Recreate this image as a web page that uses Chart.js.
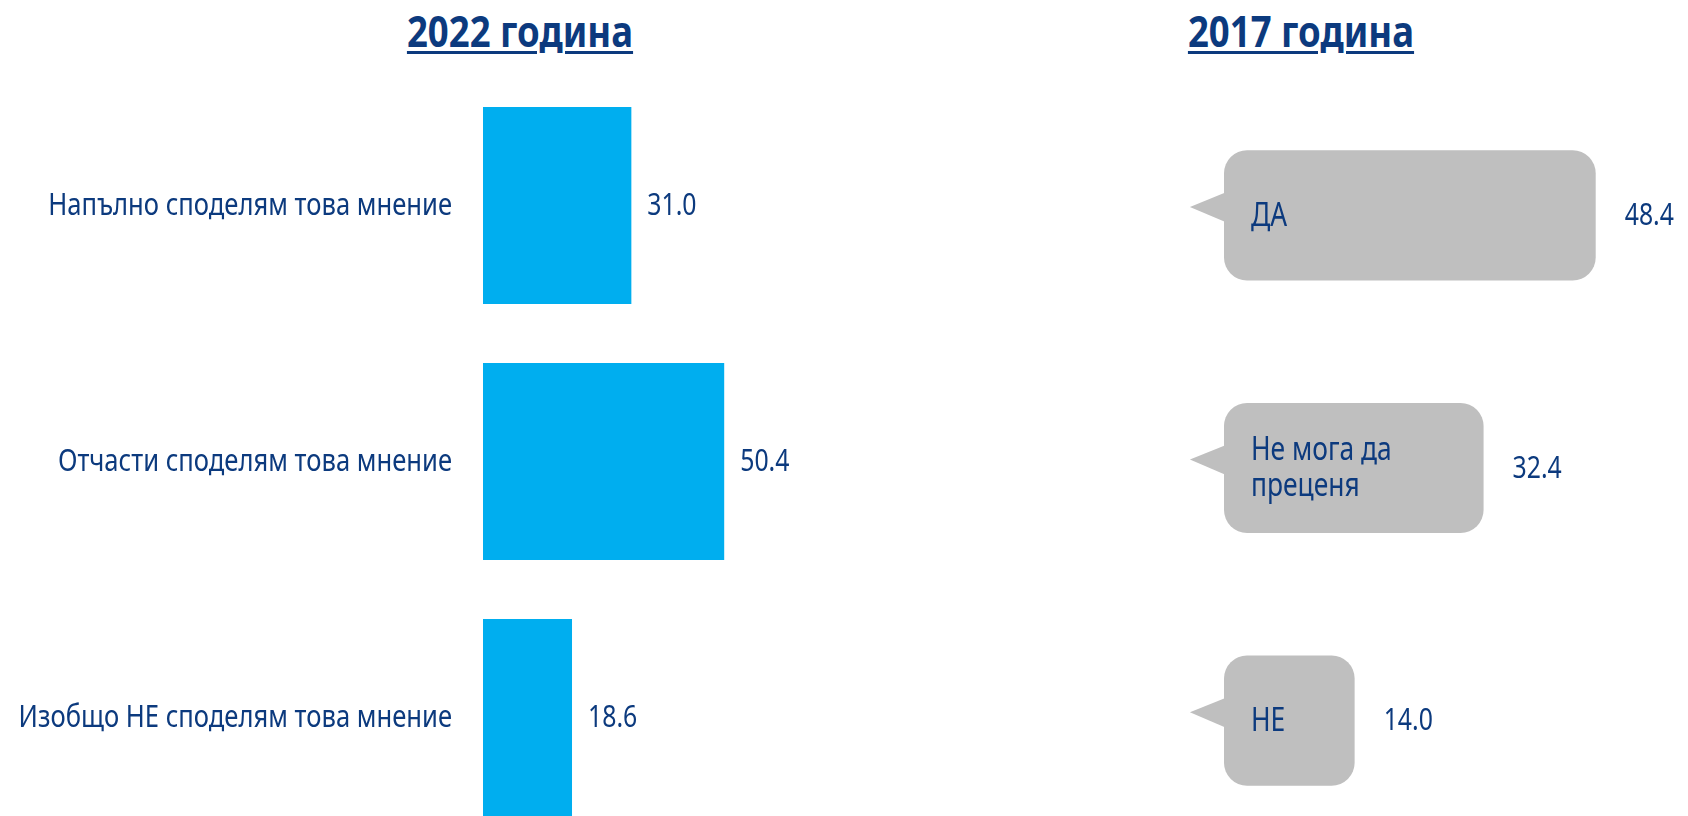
<!DOCTYPE html>
<html>
<head>
<meta charset="utf-8">
<script src="https://cdn.jsdelivr.net/npm/chart.js@4"></script>
<style>
  html, body { margin: 0; padding: 0; background: #fff; }
  body { width: 1688px; height: 816px; overflow: hidden; position: relative; }
  .title {
    position: absolute; top: 9px; width: 400px; text-align: center;
    font-family: "Noto Sans", sans-serif;
    font-weight: bold; font-size: 43px; line-height: 43px; color: #0c3a7e;
    text-decoration: underline; text-decoration-thickness: 3px; text-underline-offset: 4px;
    transform: scaleX(0.85); transform-origin: center;
  }
  canvas { position: absolute; top: 0; }
</style>
</head>
<body>
<div class="title" style="left: 320px;">2022 година</div>
<div class="title" style="left: 1101px;">2017 година</div>
<canvas id="chart2022" width="844" height="860" style="left:0"></canvas>
<canvas id="chart2017" width="844" height="860" style="left:844px"></canvas>
<script>
// data
const categories2022 = ['Напълно споделям това мнение', 'Отчасти споделям това мнение', 'Изобщо НЕ споделям това мнение'];
const values2022 = [31.0, 50.4, 18.6];
const categories2017 = ['ДА', ['Не мога да', 'преценя'], 'НЕ'];
const values2017 = [48.4, 32.4, 14.0];

const textColor = '#0c3a7e';
const fontFamily = '"Noto Sans", sans-serif';

// the original font is a condensed one, so squeeze the text a bit
function narrowText(ctx, text, x, y, align, sx) {
    ctx.save();
    ctx.translate(x, y);
    ctx.scale(sx, 1);
    ctx.textAlign = align;
    ctx.textBaseline = 'middle';
    ctx.fillText(text, 0, 0);
    ctx.restore();
}

// category names left of the bars
const catLabels = {
    id: 'catLabels',
    afterDatasetsDraw(chart, args, opts) {
        const ctx = chart.ctx;
        const yScale = chart.scales.y;
        ctx.save();
        ctx.font = '31px ' + fontFamily;
        ctx.fillStyle = textColor;
        chart.data.labels.forEach(function(t, i) {
            narrowText(ctx, t, chart.chartArea.left - opts.gap, yScale.getPixelForTick(i) + 1, 'right', 0.826);
        });
        ctx.restore();
    }
};

// value labels just right of each bar
const valueLabels = {
    id: 'valueLabels',
    afterDatasetsDraw(chart, args, opts) {
        const ctx = chart.ctx;
        const meta = chart.getDatasetMeta(0);
        ctx.save();
        ctx.font = '31px ' + fontFamily;
        ctx.fillStyle = textColor;
        meta.data.forEach(function(bar, i) {
            const v = chart.data.datasets[0].data[i];
            narrowText(ctx, v.toFixed(1), bar.x + opts.gap, bar.y + 1, 'left', 0.8);
        });
        ctx.restore();
    }
};

// speech bubble pointer + text inside the bubble
const bubbles = {
    id: 'bubbles',
    beforeDatasetsDraw(chart) {
        const ctx = chart.ctx;
        const meta = chart.getDatasetMeta(0);
        ctx.save();
        ctx.fillStyle = '#bfbfbf';
        meta.data.forEach(function(bar) {
            const h = bar.height;
            ctx.beginPath();
            ctx.moveTo(bar.base + 2, bar.y - 0.177 * h);
            ctx.lineTo(bar.base - 0.262 * h, bar.y - 0.065 * h);
            ctx.lineTo(bar.base + 2, bar.y + 0.054 * h);
            ctx.closePath();
            ctx.fill();
        });
        ctx.restore();
    },
    afterDatasetsDraw(chart) {
        const ctx = chart.ctx;
        const meta = chart.getDatasetMeta(0);
        ctx.save();
        ctx.font = '33px ' + fontFamily;
        ctx.fillStyle = textColor;
        meta.data.forEach(function(bar, i) {
            let lines = chart.data.labels[i];
            if (!Array.isArray(lines)) lines = [lines];
            const lh = 36;
            const y0 = bar.y + 1 - (lines.length - 1) * lh / 2;
            lines.forEach(function(t, j) {
                narrowText(ctx, t, bar.base + 27, y0 + j * lh, 'left', 0.8);
            });
        });
        ctx.restore();
    }
};

new Chart(document.getElementById('chart2022'), {
    type: 'bar',
    data: {
        labels: categories2022,
        datasets: [{
            data: values2022,
            backgroundColor: '#00aeef',
            categoryPercentage: 1,
            barPercentage: 0.77
        }]
    },
    options: {
        indexAxis: 'y',
        responsive: false,
        animation: false,
        devicePixelRatio: 1,
        layout: { padding: { top: 77.5, bottom: 14.5, left: 0, right: 26 } },
        plugins: {
            legend: { display: false }, tooltip: { enabled: false },
            valueLabels: { gap: 16 }, catLabels: { gap: 31 }
        },
        scales: {
            x: { display: false, min: 0, max: 70 },
            y: {
                grid: { display: false, drawTicks: false },
                border: { display: false },
                ticks: { display: false },
                afterFit: function(scale) { scale.width = 483; }
            }
        }
    },
    plugins: [catLabels, valueLabels]
});

new Chart(document.getElementById('chart2017'), {
    type: 'bar',
    data: {
        labels: categories2017,
        datasets: [{
            data: values2017,
            base: -4.64,
            backgroundColor: '#bfbfbf',
            borderRadius: 23,
            borderSkipped: false,
            categoryPercentage: 1,
            barPercentage: 0.515
        }]
    },
    options: {
        indexAxis: 'y',
        responsive: false,
        animation: false,
        devicePixelRatio: 1,
        layout: { padding: { top: 89, bottom: 13, left: 0, right: 11 } },
        plugins: { legend: { display: false }, tooltip: { enabled: false }, valueLabels: { gap: 29 } },
        scales: {
            x: { display: false, min: -4.64, max: 60 },
            y: {
                grid: { display: false, drawTicks: false },
                border: { display: false },
                ticks: { display: false },
                afterFit: function(scale) { scale.width = 380; }
            }
        }
    },
    plugins: [bubbles, valueLabels]
});
</script>
</body>
</html>
